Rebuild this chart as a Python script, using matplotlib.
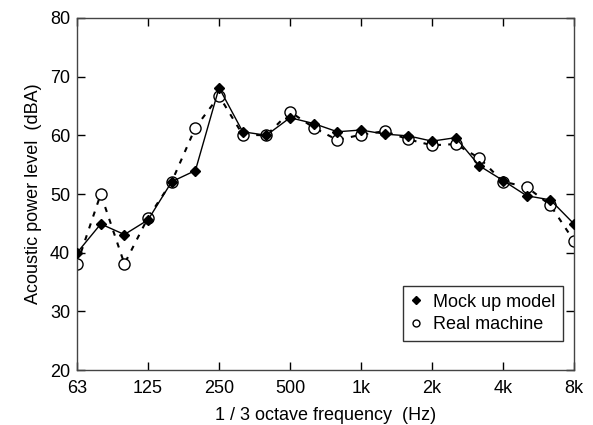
import matplotlib.pyplot as plt
from matplotlib.lines import Line2D

plt.rcParams['font.family'] = ['Liberation Sans', 'DejaVu Sans']

# 1/3 octave bands from 63 Hz to 8 kHz
bands = ['63', '80', '100', '125', '160', '200', '250', '315', '400', '500', '630',
         '800', '1k', '1.25k', '1.6k', '2k', '2.5k', '3.15k', '4k', '5k', '6.3k', '8k']
tick_labels = ['63', '125', '250', '500', '1k', '2k', '4k', '8k']

mock_up = [40.0, 44.9, 43.1, 45.6, 52.1, 54.0, 68.1, 60.6, 60.0, 63.0, 62.0,
           60.6, 60.9, 60.2, 59.9, 59.0, 59.6, 54.8, 52.3, 49.7, 49.0, 44.9]
real_machine = [38.1, 50.0, 38.1, 46.0, 52.1, 61.3, 66.7, 60.1, 60.0, 64.0, 61.3,
                59.2, 60.1, 60.7, 59.3, 58.3, 58.5, 56.1, 52.1, 51.2, 48.1, 42.0]

x = list(range(len(bands)))

fig = plt.figure(figsize=(5.93, 4.25), dpi=100)
ax = fig.add_axes([0.130, 0.129, 0.838, 0.829])

ax.plot(x, real_machine, linestyle=(0, (2.5, 3.5)), color='black', linewidth=1.5,
        marker='o', markersize=8, markerfacecolor='white', markeredgecolor='black',
        markeredgewidth=1.0, zorder=2)
ax.plot(x, mock_up, linestyle='-', color='black', linewidth=1.0,
        marker='D', markersize=5, markerfacecolor='black', markeredgecolor='black',
        zorder=3)

ax.set_xlim(0, len(bands) - 1)
ax.set_ylim(20, 80)
ax.set_xticks([bands.index(t) for t in tick_labels])
ax.set_xticklabels(tick_labels)
ax.set_yticks(range(20, 81, 10))

ax.tick_params(direction='in', top=True, right=True, length=6, width=1.0,
               labelsize=13, colors='black')
ax.tick_params(axis='x', pad=7)
ax.tick_params(axis='y', pad=5)
for s in ax.spines.values():
    s.set_linewidth(1.0)
    s.set_color('#444444')

ax.set_xlabel('1 / 3 octave frequency  (Hz)', fontsize=13, labelpad=7)
ax.set_ylabel('Acoustic power level  (dBA)', fontsize=13, labelpad=6)

handles = [
    Line2D([], [], linestyle='none', marker='D', markersize=4, color='black'),
    Line2D([], [], linestyle='none', marker='o', markersize=5,
           markerfacecolor='white', markeredgecolor='black'),
]
leg = ax.legend(handles, ['Mock up model', 'Real machine'], loc='lower right',
                bbox_to_anchor=(0.978, 0.082), borderaxespad=0, fontsize=13,
                frameon=True, fancybox=False, edgecolor='black', handlelength=0.6,
                handletextpad=0.6, borderpad=0.45, labelspacing=0.3)
leg.get_frame().set_linewidth(1.0)

fig.savefig('out.png', dpi=100)
